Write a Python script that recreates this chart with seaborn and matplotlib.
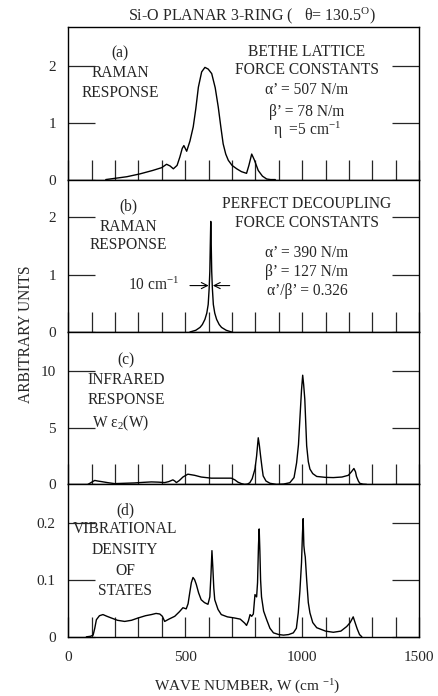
import numpy as np
import seaborn as sns
import matplotlib.pyplot as plt

w_a = [160, 250, 306, 360, 399, 420, 435, 449, 465, 477, 487, 494, 500, 506, 520, 534, 545, 556, 570,
       584, 598, 613, 628, 641, 652, 662, 673, 684, 700, 720, 740, 762, 772, 784, 795, 812, 830, 848, 865, 885]
raman_a = [0, 0.05, 0.10, 0.16, 0.21, 0.27, 0.24, 0.19, 0.25, 0.40, 0.55, 0.60, 0.55, 0.50, 0.68, 0.93, 1.25, 1.63, 1.90,
           1.98, 1.95, 1.87, 1.62, 1.28, 0.93, 0.63, 0.45, 0.34, 0.25, 0.19, 0.14, 0.11, 0.25, 0.45, 0.35, 0.16, 0.06, 0.01, 0.0, 0.0]

w_b = [520, 545, 563, 573, 584, 592, 598, 602, 605, 607, 609, 611, 613, 616, 620, 626, 634, 645, 655, 675, 698]
raman_b = [0, 0.03, 0.08, 0.13, 0.22, 0.33, 0.48, 0.75, 1.06, 1.52, 1.93, 1.52, 1.06, 0.75, 0.48, 0.33, 0.22, 0.13, 0.08, 0.03, 0]

w_c = [84, 100, 113, 125, 141, 170, 198, 240, 283, 320, 355, 385, 412, 430, 447, 455, 462, 475, 490, 511,
       540, 568, 611, 650, 697, 712, 725, 740, 754, 766, 776, 786, 798, 805, 812, 817, 822, 828, 833, 845,
       862, 890, 920, 947, 965, 976, 984, 990, 997, 1002, 1006, 1011, 1019, 1026, 1033, 1045, 1062, 1100, 1133, 1170,
       1197, 1210, 1221, 1228, 1232, 1240, 1246, 1260, 1275]
ir_c = [0, 0.2, 0.35, 0.3, 0.25, 0.15, 0.07, 0.1, 0.13, 0.18, 0.22, 0.2, 0.16, 0.25, 0.4, 0.3, 0.16, 0.35, 0.65, 0.9,
        0.8, 0.65, 0.55, 0.55, 0.55, 0.4, 0.2, 0.07, 0.0, 0.03, 0.15, 0.5, 1.35, 2.5, 4.1, 3.4, 2.5, 1.5, 0.75, 0.3,
        0.1, 0.0, 0.03, 0.15, 0.6, 1.9, 3.5, 5.75, 8.3, 9.6, 8.8, 7.5, 3.4, 2.0, 1.35, 0.95, 0.7, 0.62, 0.6, 0.65,
        0.8, 1.1, 1.4, 1.1, 0.7, 0.3, 0.1, 0.02, 0]

w_d = [77, 95, 106, 113, 120, 133, 148, 165, 184, 210, 241, 270, 298, 330, 355, 375, 391, 402, 412, 430,
       455, 475, 490, 504, 512, 519, 526, 533, 540, 547, 557, 568, 582, 597, 605, 610, 614, 618, 622, 626,
       640, 654, 680, 711, 735, 754, 762, 770, 777, 784, 791, 798, 805, 809, 813, 816, 819, 822, 826, 835,
       848, 862, 877, 900, 920, 942, 962, 975, 983, 990, 997, 1001, 1004, 1007, 1010, 1013, 1019, 1026, 1033, 1045,
       1062, 1100, 1133, 1165, 1190, 1205, 1218, 1226, 1235, 1245, 1255]
vdos_d = [0, 0.001, 0.003, 0.015, 0.030, 0.037, 0.039, 0.036, 0.033, 0.029, 0.027, 0.029, 0.033, 0.037, 0.039, 0.041, 0.040, 0.036, 0.027, 0.031,
          0.036, 0.044, 0.051, 0.049, 0.058, 0.077, 0.095, 0.104, 0.100, 0.092, 0.077, 0.065, 0.060, 0.057, 0.070, 0.110, 0.151, 0.120, 0.085, 0.065,
          0.048, 0.039, 0.035, 0.033, 0.031, 0.024, 0.020, 0.028, 0.039, 0.036, 0.040, 0.074, 0.070, 0.095, 0.160, 0.189, 0.150, 0.100, 0.070, 0.045,
          0.030, 0.015, 0.007, 0.004, 0.003, 0.004, 0.007, 0.015, 0.042, 0.080, 0.130, 0.180, 0.207, 0.160, 0.148, 0.140, 0.100, 0.060, 0.042, 0.025,
          0.016, 0.010, 0.008, 0.010, 0.018, 0.025, 0.035, 0.025, 0.014, 0.004, 0]

ylims = [2.69, 2.66, 13.4, 0.267]
yticks = [[0, 1, 2], [0, 1, 2], [0, 5, 10], [0, 0.1, 0.2]]
yticklabels = [["0", "1", "2"], ["0", "1", "2"], ["0", "5", "10"], ["0", "0.1", "0.2"]]
xticks = list(range(0, 1501, 100))
xticklabels = [str(t) if t % 500 == 0 else "" for t in xticks]

sns.set_style("ticks")
plt.rcParams["font.family"] = ["Liberation Serif", "DejaVu Serif"]
plt.rcParams["mathtext.fontset"] = "custom"
plt.rcParams["mathtext.rm"] = "Liberation Serif"
plt.rcParams["mathtext.it"] = "Liberation Serif:italic"
plt.rcParams["font.size"] = 11

fig, axes = plt.subplots(4, 1, figsize=(4.38, 6.96), dpi=100, sharex=True,
                         gridspec_kw=dict(hspace=0, left=0.156, right=0.957, top=0.961, bottom=0.085))

series = [(w_a, raman_a), (w_b, raman_b), (w_c, ir_c), (w_d, vdos_d)]
for i, ax in enumerate(axes):
    x, y = series[i]
    sns.lineplot(x=x, y=y, ax=ax, color="black", lw=1.0, estimator=None, sort=False)
    ax.set_xlim(0, 1500)
    ax.set_ylim(0, ylims[i])
    ax.set_yticks(yticks[i])
    ax.set_yticklabels(yticklabels[i])
    ax.set_xticks(xticks)
    ax.set_xticklabels(xticklabels)
    ax.tick_params(axis="y", direction="in", length=19.5, width=0.9, left=True, right=True, pad=9, labelsize=11)
    ax.tick_params(axis="x", direction="in", length=14.5, width=0.9, bottom=True, top=False, pad=10,
                   labelsize=11, labelbottom=(i == 3))
    for s in ax.spines.values():
        s.set_linewidth(1.0)
        s.set_color("black")

ctr = dict(ha="center", va="center", fontsize=11.2)
ax = axes[0]
ax.text(221, 2.23, "(a)", **ctr)
ax.text(221, 1.88, "RAMAN", **ctr)
ax.text(221, 1.52, "RESPONSE", **ctr)
ax.text(1020, 2.25, "BETHE LATTICE", **ctr)
ax.text(1020, 1.93, "FORCE CONSTANTS", **ctr)
ax.text(1020, 1.58, "α’ = 507 N/m", **ctr)
ax.text(1020, 1.19, "β’ = 78 N/m", **ctr)
ax.text(1020, 0.87, "η  =5 cm$^{-1}$", **ctr)

ax = axes[1]
ax.text(255, 2.2, "(b)", **ctr)
ax.text(255, 1.84, "RAMAN", **ctr)
ax.text(255, 1.52, "RESPONSE", **ctr)
ax.text(1020, 2.24, "PERFECT DECOUPLING", **ctr)
ax.text(1020, 1.91, "FORCE CONSTANTS", **ctr)
ax.text(1020, 1.38, "α’ = 390 N/m", **ctr)
ax.text(1020, 1.05, "β’ = 127 N/m", **ctr)
ax.text(1020, 0.72, "α’/β’ = 0.326", **ctr)
ax.text(366, 0.81, "10 cm$^{-1}$", **ctr)
ax.annotate("", xy=(600, 0.81), xytext=(520, 0.81),
            arrowprops=dict(arrowstyle="->", lw=0.8, color="black", shrinkA=0, shrinkB=0))
ax.annotate("", xy=(618, 0.81), xytext=(690, 0.81),
            arrowprops=dict(arrowstyle="->", lw=0.8, color="black", shrinkA=0, shrinkB=0))

ax = axes[2]
ax.text(247, 10.9, "(c)", **ctr)
ax.text(247, 9.2, "INFRARED", **ctr)
ax.text(247, 7.4, "RESPONSE", **ctr)
ax.text(225, 5.4, "W ε$_2$(W)", **ctr)

ax = axes[3]
ax.text(243, 0.221, "(d)", **ctr)
ax.text(243, 0.189, "VIBRATIONAL", **ctr)
ax.text(243, 0.152, "DENSITY", **ctr)
ax.text(243, 0.115, "OF", **ctr)
ax.text(243, 0.080, "STATES", **ctr)

fig.text(0.575, 0.978, "Si-O PLANAR 3-RING (   θ= 130.5$^{\\mathrm{O}}$)", ha="center", va="center", fontsize=11.5)
fig.text(0.059, 0.52, "ARBITRARY UNITS", rotation=90, ha="center", va="center", fontsize=11.2)
fig.text(0.564, 0.013, "WAVE NUMBER, W (cm $^{-1}$)", ha="center", va="center", fontsize=11)

fig.savefig("out.png", dpi=100)
